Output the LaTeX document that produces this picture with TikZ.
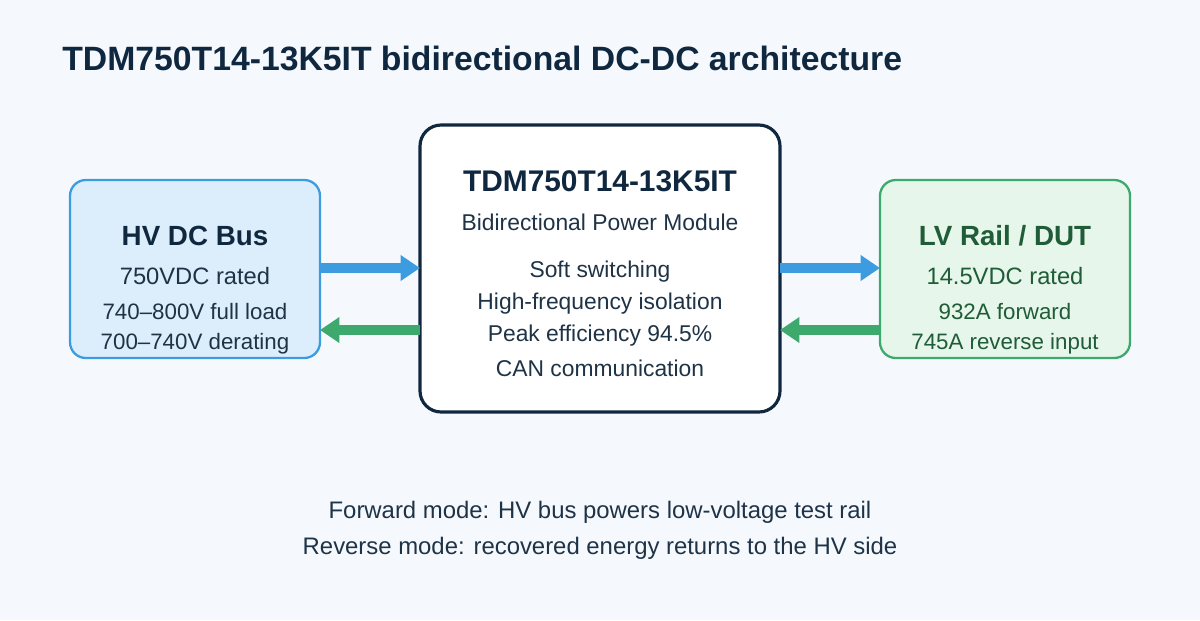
\documentclass[tikz,border=0pt]{standalone}
\usepackage{fontspec}
\setmainfont{Liberation Sans}
\usetikzlibrary{arrows.meta}
\definecolor{bgcol}{HTML}{F5F9FE}
\definecolor{navy}{HTML}{10283F}
\definecolor{hvfill}{HTML}{DCEEFC}
\definecolor{hvline}{HTML}{3D9BDF}
\definecolor{lvfill}{HTML}{E6F6EA}
\definecolor{lvline}{HTML}{3DA96C}
\definecolor{lvtext}{HTML}{1F5C37}
\definecolor{bodytext}{HTML}{1F3347}
\tikzset{
  box/.style={rounded corners=9pt, line width=1.3pt},
  txt/.style={anchor=center, inner sep=0pt},
  flow/.style={line width=6pt, -{Triangle[length=11pt,width=14pt]}},
}
\begin{document}
\begin{tikzpicture}[x=0.02cm,y=-0.02cm]
  \fill[bgcol] (0,0) rectangle (1200,620);
  \useasboundingbox (0,0) rectangle (1200,620);
  % title
  \node[txt, anchor=west, text=navy, font=\fontsize{19.2}{22}\selectfont\bfseries] (title) at (62,58)
    {TDM750T14-13K5IT bidirectional DC-DC architecture};
  % boxes
  \draw[box, fill=hvfill, draw=hvline] (70,180) rectangle (320,358);
  \coordinate (hvtop) at (320,268);
  \coordinate (hvbot) at (320,330);
  \draw[box, fill=white, draw=navy, line width=1.8pt, rounded corners=12pt] (420,125) rectangle (780,412);
  \coordinate (cltop) at (420,268);
  \coordinate (clbot) at (420,330);
  \coordinate (crtop) at (780,268);
  \coordinate (crbot) at (780,330);
  \draw[box, fill=lvfill, draw=lvline] (880,180) rectangle (1130,358);
  \coordinate (lvtop) at (880,268);
  \coordinate (lvbot) at (880,330);
  % arrows
  \draw[flow, hvline] (hvtop) -- (cltop);
  \draw[flow, lvline] (clbot) -- (hvbot);
  \draw[flow, hvline] (crtop) -- (lvtop);
  \draw[flow, lvline] (lvbot) -- (crbot);
  % HV text
  \node[txt, text=navy, font=\fontsize{15.8}{18}\selectfont\bfseries] (hvname) at (195,236) {HV DC Bus};
  \node[txt, text=bodytext, font=\fontsize{13.5}{16}\selectfont] (hvrate) at (195,276) {750VDC rated};
  \node[txt, text=bodytext, font=\fontsize{12.7}{15}\selectfont] (hvfull) at (195,312) {740–800V full load};
  \node[txt, text=bodytext, font=\fontsize{12.7}{15}\selectfont] (hvder) at (195,344) {700–740V derating};
  % module text
  \node[txt, text=navy, font=\fontsize{17}{20}\selectfont\bfseries] (modname) at (600,181) {TDM750T14-13K5IT};
  \node[txt, text=bodytext, font=\fontsize{13}{16}\selectfont] (modsub) at (600,222) {Bidirectional Power Module};
  \foreach \t [count=\i] in {Soft switching, High-frequency isolation, Peak efficiency 94.5\%, CAN communication}
    \node[txt, text=bodytext, font=\fontsize{13}{16}\selectfont] (feat\i) at (600,{272+32*(\i-1)}) {\t};
  % LV text
  \node[txt, text=lvtext, font=\fontsize{15.8}{18}\selectfont\bfseries] (lvname) at (1005,236) {LV Rail / DUT};
  \node[txt, text=lvtext, font=\fontsize{13.5}{16}\selectfont] (lvrate) at (1005,276) {14.5VDC rated};
  \node[txt, text=lvtext, font=\fontsize{12.7}{15}\selectfont] (lvfwd) at (1005,312) {932A forward};
  \node[txt, text=lvtext, font=\fontsize{12.7}{15}\selectfont] (lvrev) at (1005,344) {745A reverse input};
  % notes
  \node[txt, text=bodytext, font=\fontsize{13.6}{16}\selectfont] (note1) at (600,512) {Forward mode: HV bus powers low-voltage test rail};
  \node[txt, text=bodytext, font=\fontsize{13.6}{16}\selectfont] (note2) at (600,548) {Reverse mode: recovered energy returns to the HV side};
\end{tikzpicture}
\end{document}
